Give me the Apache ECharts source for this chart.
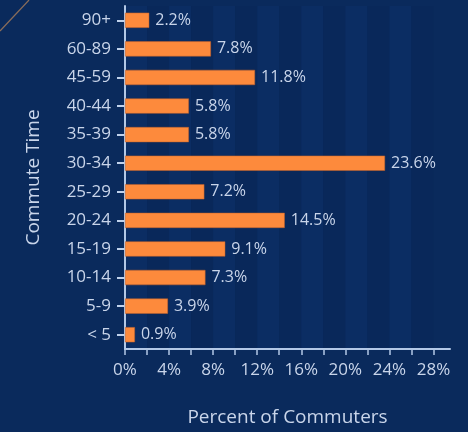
<!DOCTYPE html>
<html><head><meta charset="utf-8">
<script src="https://cdn.jsdelivr.net/npm/echarts@6/dist/echarts.min.js"></script>
<style>html,body{margin:0;padding:0;background:#0a2a5c;overflow:hidden;}#c{width:468px;height:432px;}</style>
</head><body><div id="c"></div>
<script>
const categories = ['< 5','5-9','10-14','15-19','20-24','25-29','30-34','35-39','40-44','45-59','60-89','90+'];
const values = [0.9, 3.9, 7.3, 9.1, 14.5, 7.2, 23.6, 5.8, 5.8, 11.8, 7.8, 2.2];
const xTicks = [0,2,4,6,8,10,12,14,16,18,20,22,24,26,28];
const xTickLabels = [0,4,8,12,16,20,24,28];

const txt = '#c9d5ea';
const font = 'Open Sans';
const chart = echarts.init(document.getElementById('c'));
chart.setOption({
  backgroundColor: '#0a2a5c',
  animation: false,
  textStyle: {fontFamily: font},
  graphic: [{type:'line', shape:{x1:0,y1:31,x2:29,y2:0}, style:{stroke:'#8a6d5a', lineWidth:1.2}}],
  grid: {left:125, right:18, top:6, bottom:70, containLabel:false},
  xAxis: {
    type:'value', min:0, max:29.5, interval:2,
    name:'Percent of Commuters', nameLocation:'middle', nameGap:59,
    nameTextStyle:{color:txt, fontSize:19, fontFamily:font},
    axisLine:{show:true, lineStyle:{color:'#b3c8e6', width:2}},
    axisTick:{show:true, length:6, lineStyle:{color:'#b3c8e6', width:1.5}, customValues: xTicks},
    axisLabel:{color:txt, fontSize:17, margin:13, customValues: xTickLabels, formatter: v => v + '%'},
    splitLine:{show:false},
    splitArea:{show:true, areaStyle:{color:['#0b2d63','#09285a']}}
  },
  yAxis: {
    type:'category', data:categories,
    name:'Commute Time', nameLocation:'middle', nameGap:82, nameRotate:90,
    nameTextStyle:{color:txt, fontSize:19, fontFamily:font},
    axisLine:{show:true, lineStyle:{color:'#b3c8e6', width:2}},
    axisTick:{show:true, alignWithLabel:true, length:8, lineStyle:{color:'#c0d2ec', width:2}},
    axisLabel:{color:txt, fontSize:17, margin:14}
  },
  series: [{
    type:'bar', data:values, barCategoryGap:'47%',
    itemStyle:{color:'#fd8a3c', borderColor:'#c0602a', borderWidth:0.5},
    label:{show:true, position:'right', distance:6, color:txt, fontSize:16, fontFamily:font, formatter: p => p.value.toFixed(1) + '%'}
  }]
});
</script></body></html>
